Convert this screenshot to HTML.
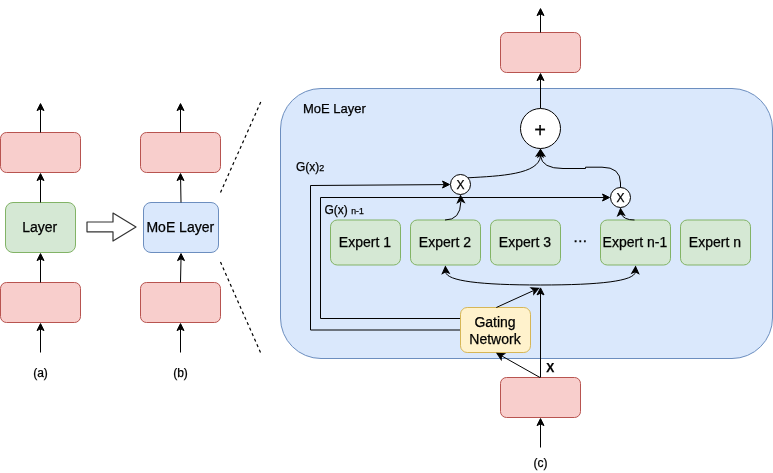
<!DOCTYPE html>
<html><head><meta charset="utf-8"><title>MoE Layer</title>
<style>
html,body{margin:0;padding:0;background:#fff;}
svg{display:block;will-change:transform;opacity:0.999;}
text{font-family:"Liberation Sans",Helvetica,Arial,sans-serif;fill:#000;stroke:#000;stroke-width:0.25px;}
.r{fill:#f8cecc;stroke:#b85450;}
.g{fill:#d5e8d4;stroke:#82b366;}
.b{fill:#dae8fc;stroke:#6c8ebf;}
.y{fill:#fff2cc;stroke:#d6b656;}
.l{fill:none;stroke:#000;stroke-width:1;}
.c{fill:#fff;stroke:#000;}
.t14{font-size:14px;text-anchor:middle;}
.t12{font-size:12px;}
.e{font-size:14px;}
</style></head>
<body>
<svg width="773" height="473" viewBox="0 0 773 473">
<defs>
<path id="ah" d="M0 0 L-3.5 7 L0 5.25 L3.5 7 Z" fill="#000" stroke="#000" stroke-width="1" stroke-linejoin="miter"/>
</defs>
<rect width="773" height="473" fill="#fff"/>

<!-- (a) -->
<rect class="r" x="0.5" y="132.5" width="80" height="40" rx="6"/>
<rect class="r" x="0.5" y="282.5" width="80" height="40" rx="6"/>
<rect class="g" x="5.5" y="202.5" width="70" height="50" rx="7.5"/>
<text class="t14" x="39.7" y="231.7">Layer</text>
<path class="l" d="M40.5 132.5V109"/><use href="#ah" x="40.5" y="103.6"/>
<path class="l" d="M40.5 202.5V179"/><use href="#ah" x="40.5" y="173.6"/>
<path class="l" d="M40.5 282.5V259"/><use href="#ah" x="40.5" y="253.6"/>
<path class="l" d="M40.5 352.5V329"/><use href="#ah" x="40.5" y="323.6"/>
<text class="t12" text-anchor="middle" x="40.5" y="376.5">(a)</text>

<!-- block arrow -->
<path d="M87 222H113V213L136 227L113 241V231.8H87Z" fill="#fff" stroke="#333" stroke-width="1.2" stroke-linejoin="round"/>

<!-- (b) -->
<rect class="r" x="140.5" y="132.5" width="80" height="40" rx="6"/>
<rect class="r" x="140.5" y="282.5" width="80" height="40" rx="6"/>
<rect class="b" x="143.5" y="202.5" width="75" height="50" rx="7.5"/>
<text class="t14" x="180.3" y="231.7">MoE Layer</text>
<path class="l" d="M180.5 132.5V109"/><use href="#ah" x="180.5" y="103.6"/>
<path class="l" d="M181 202.5L180.6 179"/><use href="#ah" x="180.5" y="173.6"/>
<path class="l" d="M180.5 282.5L181 259"/><use href="#ah" x="181" y="253.6"/>
<path class="l" d="M180.5 352.5V329"/><use href="#ah" x="180.5" y="323.6"/>
<text class="t12" text-anchor="middle" x="180.5" y="376.5">(b)</text>

<!-- dashed -->
<path class="l" style="stroke-width:1.2" stroke-dasharray="3 3" d="M220.5 192.5L261 101.5"/>
<path class="l" style="stroke-width:1.2" stroke-dasharray="3 3" d="M220.5 262L260.5 352.5"/>

<!-- (c) panel -->
<rect class="b" x="280.5" y="88.5" width="492" height="270" rx="40.5"/>
<text x="303" y="113" font-size="13">MoE Layer</text>
<text class="t12" x="296" y="170.7">G(x)<tspan font-size="9">2</tspan></text>
<text class="t12" x="324.5" y="213.6">G(x) <tspan font-size="8.7">n-1</tspan></text>

<!-- top red + arrows -->
<rect class="r" x="500.5" y="32.5" width="80" height="40" rx="6"/>
<path class="l" d="M540.5 32.5V14"/><use href="#ah" x="540.5" y="8.6"/>
<path class="l" d="M540.5 108.5V79"/><use href="#ah" x="540.5" y="73.6"/>

<!-- bottom red -->
<rect class="r" x="500.5" y="377.5" width="80" height="40" rx="6"/>
<path class="l" d="M540.5 447.5V424"/><use href="#ah" x="540.5" y="418.6"/>
<text class="t12" text-anchor="middle" x="540.5" y="467">(c)</text>
<text class="t12" font-weight="bold" x="546.3" y="372">X</text>

<!-- gating feedback lines -->
<path class="l" d="M460.5 330H310.5V185.5L444 184.6"/><use href="#ah" transform="translate(449.5 184.5) rotate(90)"/>
<path class="l" d="M460.5 318.5H320.5V197.5H604"/><use href="#ah" transform="translate(609.5 197.5) rotate(90)"/>

<!-- experts -->
<rect class="g" x="330.5" y="220" width="70" height="45" rx="6.75"/>
<rect class="g" x="410.5" y="220" width="70" height="45" rx="6.75"/>
<rect class="g" x="490.5" y="220" width="70" height="45" rx="6.75"/>
<rect class="g" x="600.5" y="220" width="70" height="45" rx="6.75"/>
<rect class="g" x="680.5" y="220" width="70" height="45" rx="6.75"/>
<text class="t14 e" x="364.9" y="246.8">Expert 1</text>
<text class="t14 e" x="444.9" y="246.8">Expert 2</text>
<text class="t14 e" x="524.9" y="246.8">Expert 3</text>
<text class="t14" x="580.3" y="245.3" style="stroke-width:0.4px">···</text>
<text class="t14 e" x="634.9" y="246.8">Expert n-1</text>
<text class="t14 e" x="714.9" y="246.8">Expert n</text>

<!-- gating -->
<rect class="y" x="460.5" y="307.5" width="70" height="45" rx="6.75"/>
<text class="t14" x="495" y="326.8">Gating</text>
<text class="t14" x="495" y="343.8">Network</text>

<!-- x arrows -->
<path class="l" d="M540.5 377.5V293"/><use href="#ah" x="540.5" y="287.9"/>
<path class="l" d="M540 377.5L501.5 355.8"/><use href="#ah" transform="translate(496.9 353.3) rotate(-60)"/>
<path class="l" d="M496.3 307.5L533.5 290.6"/><use href="#ah" transform="translate(538.7 288.2) rotate(66)"/>

<!-- fan curve -->
<path class="l" d="M445.6 272C447 281 480 285 540.5 285C601 285 634 281 635.4 272"/>
<use href="#ah" transform="translate(445.4 266.5) rotate(-3)"/>
<use href="#ah" transform="translate(635.6 266.5) rotate(3)"/>

<!-- circles -->
<circle class="c" cx="540.5" cy="128.5" r="20"/>
<text x="540.1" y="137.3" font-size="20" text-anchor="middle">+</text>
<circle class="c" cx="460.5" cy="184.5" r="10"/>
<text class="t12" text-anchor="middle" x="460.5" y="189">X</text>
<circle class="c" cx="620.5" cy="197.5" r="10"/>
<text class="t12" text-anchor="middle" x="620.5" y="202">X</text>

<!-- expert -> X curves -->
<path class="l" d="M445 220Q460.5 220 460.8 202"/><use href="#ah" transform="translate(460.5 195.6) rotate(-3)"/>
<path class="l" d="M634.5 220Q623.5 220 621 213.5"/><use href="#ah" transform="translate(620.5 208.6) rotate(-5)"/>

<!-- X -> + curves -->
<path class="l" d="M468 177.8C500 176 539 174.5 540.5 156"/>
<path class="l" d="M620.5 187.5V183Q620.5 167.2 602 167.2H585.5V168.5H563Q542 168.5 540.5 156"/>
<use href="#ah" transform="translate(540.5 149.6) rotate(7)"/>
<use href="#ah" transform="translate(540.5 149.6) rotate(-7)"/>
</svg>
</body></html>
